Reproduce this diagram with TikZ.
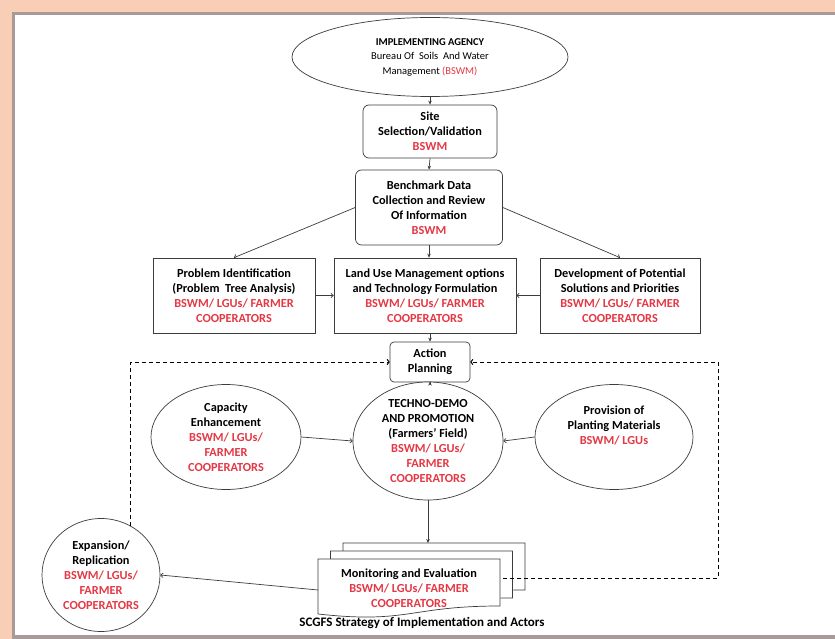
\documentclass[tikz,border=0pt]{standalone}
\usepackage{fontspec}
\setmainfont{Carlito}
\usetikzlibrary{arrows.meta,shapes.geometric}
\definecolor{peach}{RGB}{249,206,182}
\definecolor{framegray}{RGB}{168,154,153}
\definecolor{txtred}{RGB}{228,56,68}
\definecolor{linegray}{RGB}{60,60,60}
\newcommand{\rd}[1]{\textcolor{txtred}{#1}}
\begin{document}
\begin{tikzpicture}[x=1pt,y=-1pt,
  every node/.style={inner sep=0pt, align=center, font=\bfseries\fontsize{12.3}{15}\selectfont},
  rbox/.style={draw=linegray, line width=0.7pt, rounded corners=6pt, fill=white},
  sbox/.style={draw=linegray, line width=0.7pt, fill=white},
  ell/.style={draw=linegray, line width=0.7pt, ellipse, fill=white},
  conn/.style={draw=linegray, line width=0.7pt, -{Stealth[length=4pt,width=3.5pt]}},
  oconn/.style={draw=linegray, line width=0.7pt, -{To[length=3pt,width=5pt]}},
  dconn/.style={draw=black, line width=1pt, dash pattern=on 4pt off 3pt, -{To[length=3pt,width=6pt]}},
]
\useasboundingbox (0,0) rectangle (835,639);
% frame
\fill[peach] (0,0) rectangle (835,639);
\fill[framegray] (12,12) rectangle (835,639);
\fill[white] (15,15) rectangle (835,635);

% nodes
\node[ell, minimum width=276pt, minimum height=79pt, font=\bfseries\fontsize{10.5}{14.5}\selectfont] (agency) at (430,57)
  {IMPLEMENTING AGENCY\\
   {\mdseries Bureau Of\ \ Soils\ \ And Water}\\
   {\mdseries Management \rd{(BSWM)}}};
\node[rbox, minimum width=134pt, minimum height=53pt] (site) at (430,131.5)
  {Site\\Selection/Validation\\\rd{BSWM}};
\node[rbox, minimum width=147pt, minimum height=75pt] (bench) at (429,207.5)
  {Benchmark Data\\Collection and Review\\Of Information\\\rd{BSWM}};
\node[sbox, minimum width=162pt, minimum height=75pt] (prob) at (234,295.5)
  {Problem Identification\\(Problem\ \ Tree Analysis)\\\rd{BSWM/ LGUs/ FARMER}\\\rd{COOPERATORS}};
\node[sbox, minimum width=182pt, minimum height=75pt] (land) at (425,295.5)
  {Land Use Management options\\and Technology Formulation\\\rd{BSWM/ LGUs/ FARMER}\\\rd{COOPERATORS}};
\node[sbox, minimum width=160pt, minimum height=75pt] (dev) at (620,295.5)
  {Development of Potential\\Solutions and Priorities\\\rd{BSWM/ LGUs/ FARMER}\\\rd{COOPERATORS}};
\node[rbox, rounded corners=4pt, minimum width=80pt, minimum height=40pt] (action) at (430,362)
  {Action\\Planning};
\node[ell, minimum width=150pt, minimum height=105pt] (cap) at (226,437)
  {Capacity\\Enhancement\\\rd{BSWM/ LGUs/}\\\rd{FARMER}\\\rd{COOPERATORS}};
\node[ell, minimum width=150pt, minimum height=118pt] (techno) at (428,441)
  {TECHNO-DEMO\\AND PROMOTION\\(Farmers’ Field)\\\rd{BSWM/ LGUs/}\\\rd{FARMER}\\\rd{COOPERATORS}};
\node[ell, minimum width=158pt, minimum height=105pt] (prov) at (614,437)
  {Provision of\\Planting Materials\\\rd{BSWM/ LGUs}\\[8pt]};
\node[ell, minimum width=118pt, minimum height=113pt] (exp) at (101,575)
  {Expansion/\\Replication\\\rd{BSWM/ LGUs/}\\\rd{FARMER}\\\rd{COOPERATORS}};

% monitoring stack (document shapes)
\foreach \dx/\dy in {25/-16, 12.5/-8, 0/0}{
  \filldraw[fill=white, draw=linegray, line width=0.7pt, shift={(\dx,\dy)}]
    (318,559) -- (500,559) -- (500,606) .. controls (409,606) and (409,624) .. (318,614) -- cycle;
}
\node (mon) at (409,588) {Monitoring and Evaluation\\\rd{BSWM/ LGUs/ FARMER}\\\rd{COOPERATORS}};
\coordinate (montop) at (428,543);
\coordinate (monleft) at (318,590);
\coordinate (monright) at (503,578);
\coordinate (dr) at (718,578);

% caption
\node[font=\bfseries\fontsize{13}{16}\selectfont] (title) at (422,623) {SCGFS Strategy of Implementation and Actors};

% connectors
\draw[conn] (agency.south) -- (site.north);
\draw[conn] (site.south) -- (bench.north);
\draw[oconn] (bench.west) -- (prob.north);
\draw[oconn] (bench.east) -- (dev.north);
\draw[conn] (bench.south) -- (land.north -| bench.south);
\draw[oconn] (prob.east) -- (land.west);
\draw[oconn] (dev.west) -- (land.east);
\draw[conn] (land.south -| action.north) -- (action.north);
\draw[conn] (action.south) -- (action.south |- techno.north);
\draw[oconn] (cap.east) -- (techno.west);
\draw[oconn] (prov.west) -- (techno.east);
\draw[conn] (techno.south) -- (montop);
\draw[oconn] (monleft) -- (exp.east);
\draw[dconn] (exp.59) |- (action.west);
\draw[dconn] (monright) -- (dr) |- (action.east);
\end{tikzpicture}
\end{document}
